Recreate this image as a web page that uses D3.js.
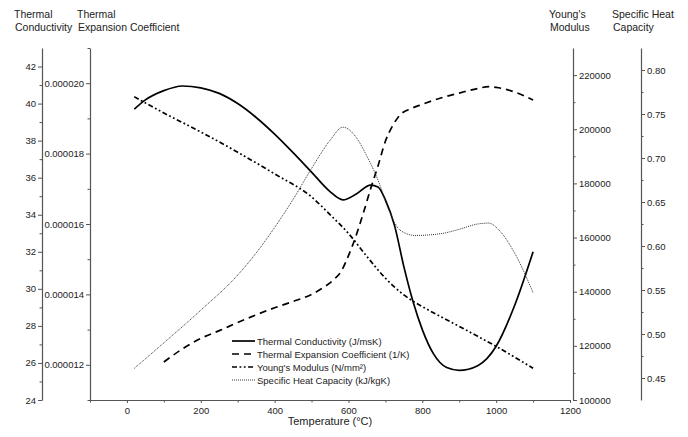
<!DOCTYPE html>
<html>
<head>
<script src="https://cdn.jsdelivr.net/npm/d3@7"></script>
<style>
  body { margin: 0; background: #fff; }
  text { font-family: "Liberation Sans", Arial, sans-serif; fill: #222; }
</style>
</head>
<body>
<svg width="688" height="437"></svg>
<script>
// thermal conductivity (J/msK)
var condTemp = [20, 50, 100, 150, 200, 250, 300, 350, 400, 450, 500, 550, 585, 620, 660, 680, 700, 725, 750, 775, 800, 830, 866, 900, 950, 1000, 1050, 1100];
var condVals = [39.7, 40.2, 40.7, 40.95, 40.85, 40.55, 40.0, 39.25, 38.35, 37.35, 36.3, 35.25, 34.8, 35.1, 35.6, 35.5, 34.8, 33.4, 31.2, 29.3, 27.8, 26.5, 25.75, 25.6, 25.85, 26.9, 29.1, 32.0];

// thermal expansion coefficient (1/K)
var expTemp = [100, 150, 200, 250, 300, 350, 400, 450, 500, 530, 560, 580, 600, 620, 640, 660, 680, 700, 720, 740, 770, 800, 850, 900, 950, 980, 1000, 1050, 1100];
var expVals = [12.08e-6, 12.45e-6, 12.75e-6, 12.97e-6, 13.2e-6, 13.42e-6, 13.62e-6, 13.8e-6, 14.0e-6, 14.18e-6, 14.42e-6, 14.65e-6, 15.1e-6, 15.65e-6, 16.3e-6, 17.0e-6, 17.65e-6, 18.35e-6, 18.8e-6, 19.1e-6, 19.28e-6, 19.4e-6, 19.58e-6, 19.72e-6, 19.85e-6, 19.9e-6, 19.88e-6, 19.75e-6, 19.52e-6];

// young's modulus (N/mm2)
var modTemp = [20, 100, 200, 300, 400, 500, 550, 600, 650, 700, 750, 800, 850, 900, 950, 1000, 1050, 1100];
var modVals = [212000, 206000, 199000, 191500, 183500, 175000, 168500, 161500, 153000, 145000, 138800, 134500, 130800, 127200, 123500, 119800, 115800, 111700];

// specific heat capacity (kJ/kgK)
var cpTemp = [20, 100, 200, 300, 350, 400, 450, 500, 550, 585, 620, 650, 680, 710, 740, 780, 850, 900, 950, 980, 1010, 1050, 1100];
var cpVals = [0.461, 0.490, 0.527, 0.567, 0.592, 0.621, 0.653, 0.688, 0.720, 0.735, 0.724, 0.702, 0.675, 0.640, 0.618, 0.612, 0.614, 0.619, 0.625, 0.626, 0.617, 0.592, 0.547];

var xTicks = [0, 200, 400, 600, 800, 1000, 1200];
var condTicks = [24, 26, 28, 30, 32, 34, 36, 38, 40, 42];
var expTicks = [12e-6, 14e-6, 16e-6, 18e-6, 20e-6];
var modTicks = [100000, 120000, 140000, 160000, 180000, 200000, 220000];
var cpTicks = [0.45, 0.50, 0.55, 0.60, 0.65, 0.70, 0.75, 0.80];

var seriesNames = ["Thermal Conductivity (J/msK)", "Thermal Expansion Coefficient (1/K)", "Young's Modulus (N/mm\u00b2)", "Specific Heat Capacity (kJ/kgK)"];

var svg = d3.select("svg");
var top_ = 48, bottom = 400;

var x = d3.scaleLinear().domain([-100, 1200]).range([90, 570]);
var yCond = d3.scaleLinear().domain([24, 43]).range([bottom, top_]);
var yExp = d3.scaleLinear().domain([11e-6, 21e-6]).range([bottom, top_]);
var yMod = d3.scaleLinear().domain([100000, 230000]).range([bottom, top_]);
var yCp = d3.scaleLinear().domain([0.425, 0.825]).range([bottom, top_]);

function styleAxis(g) {
  g.select(".domain").attr("stroke", "#555").attr("stroke-width", 1.2);
  g.selectAll("line").attr("stroke", "#555");
  g.selectAll("text").style("font-size", "9.5px").style("fill", "#222")
    .style("font-family", "'Liberation Sans', Arial, sans-serif");
}

// minor ticks helper
function minor(axisFn, scale, vals, pos) {
  svg.append("g").attr("transform", pos)
    .call(axisFn(scale).tickValues(vals).tickSize(2.5).tickFormat("").tickSizeOuter(0))
    .call(function(g) { g.select(".domain").remove(); g.selectAll("line").attr("stroke", "#555"); });
}

var intFmt = d3.format("d");

// x axis
svg.append("g").attr("transform", "translate(0," + bottom + ")")
  .call(d3.axisBottom(x).tickValues(xTicks).tickSize(3).tickSizeOuter(0).tickPadding(4).tickFormat(intFmt))
  .call(styleAxis);
minor(d3.axisBottom, x, [-100, 100, 300, 500, 700, 900, 1100], "translate(0," + bottom + ")");

// left axis: conductivity
svg.append("g").attr("transform", "translate(42,0)")
  .call(d3.axisLeft(yCond).tickValues(condTicks).tickSize(4).tickSizeOuter(0).tickPadding(2).tickFormat(intFmt))
  .call(styleAxis);
minor(d3.axisLeft, yCond, [25, 27, 29, 31, 33, 35, 37, 39, 41], "translate(42,0)");

// left axis: expansion
svg.append("g").attr("transform", "translate(90,0)")
  .call(d3.axisLeft(yExp).tickValues(expTicks).tickSize(4).tickSizeOuter(0).tickPadding(2).tickFormat(d3.format(".6f")))
  .call(styleAxis);
minor(d3.axisLeft, yExp, [11e-6, 13e-6, 15e-6, 17e-6, 19e-6, 21e-6], "translate(90,0)");

// right axis: modulus
svg.append("g").attr("transform", "translate(573,0)")
  .call(d3.axisRight(yMod).tickValues(modTicks).tickSize(4).tickSizeOuter(0).tickPadding(2).tickFormat(intFmt))
  .call(styleAxis);
minor(d3.axisRight, yMod, [110000, 130000, 150000, 170000, 190000, 210000], "translate(573,0)");

// right axis: specific heat
svg.append("g").attr("transform", "translate(641,0)")
  .call(d3.axisRight(yCp).tickValues(cpTicks).tickSize(4).tickSizeOuter(0).tickPadding(2).tickFormat(d3.format(".2f")))
  .call(styleAxis);
minor(d3.axisRight, yCp, [0.475, 0.525, 0.575, 0.625, 0.675, 0.725, 0.775], "translate(641,0)");

// axis titles
function title(xp, lines) {
  var t = svg.append("text").attr("x", xp).attr("y", 18).style("font-size", "10.5px");
  lines.forEach(function(s, i) {
    t.append("tspan").attr("x", xp + (i ? 1 : 0)).attr("dy", i ? 13 : 0).text(s);
  });
}
title(14, ["Thermal", "Conductivity"]);
title(77, ["Thermal", "Expansion Coefficient"]);
title(549, ["Young's", "Modulus"]);
title(612, ["Specific Heat", "Capacity"]);

svg.append("text").attr("x", 330).attr("y", 425).attr("text-anchor", "middle")
  .style("font-size", "11px").text("Temperature (\u00b0C)");

// series
var styles = [
  { dash: null, width: 1.7, color: "#000" },
  { dash: "7,5", width: 1.7, color: "#000" },
  { dash: "5,2.5,1.8,2.5,1.8,2.5", width: 1.7, color: "#000" },
  { dash: "1,1", width: 1, color: "#333" }
];

function drawLine(temps, vals, yScale, st) {
  var pts = temps.map(function(t, i) { return [t, vals[i]]; });
  var line = d3.line()
    .x(function(d) { return x(d[0]); })
    .y(function(d) { return yScale(d[1]); })
    .curve(d3.curveMonotoneX);
  svg.append("path").datum(pts)
    .attr("d", line)
    .attr("fill", "none")
    .attr("stroke", st.color)
    .attr("stroke-width", st.width)
    .attr("stroke-dasharray", st.dash);
}

drawLine(condTemp, condVals, yCond, styles[0]);
drawLine(expTemp, expVals, yExp, styles[1]);
drawLine(modTemp, modVals, yMod, styles[2]);
drawLine(cpTemp, cpVals, yCp, styles[3]);

// legend
var legend = svg.append("g").attr("transform", "translate(232,341)");
seriesNames.forEach(function(name, i) {
  var row = legend.append("g").attr("transform", "translate(0," + (i * 13) + ")");
  row.append("line").attr("x1", 0).attr("x2", 23).attr("y1", 0).attr("y2", 0)
    .attr("stroke", styles[i].color).attr("stroke-width", styles[i].width)
    .attr("stroke-dasharray", styles[i].dash);
  row.append("text").attr("x", 25).attr("y", 3.5).style("font-size", "9.5px").text(name);
});
</script>
</body>
</html>
